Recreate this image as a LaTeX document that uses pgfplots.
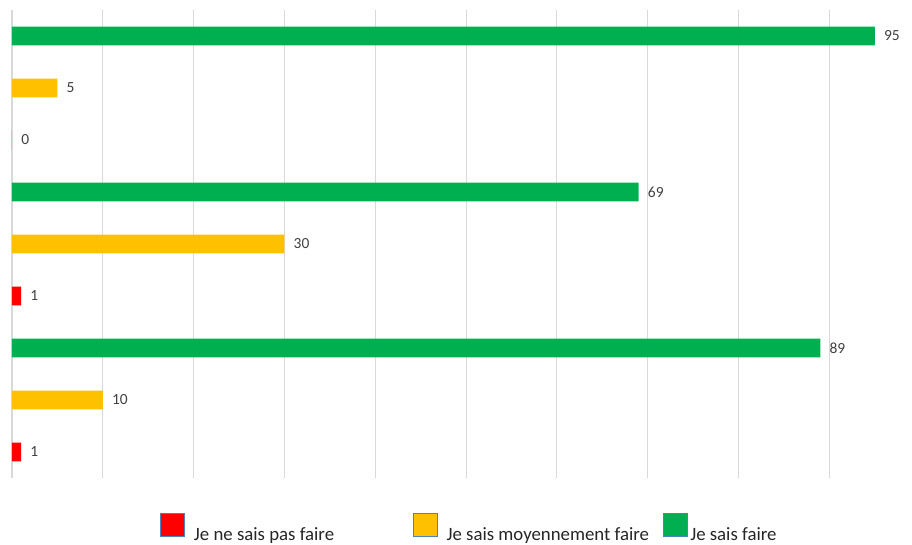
\documentclass[border=0pt]{standalone}
\usepackage{fontspec}
\setmainfont{Carlito}
\usepackage{pgfplots}
\pgfplotsset{compat=1.18}
\definecolor{cRed}{HTML}{FF0000}
\definecolor{cYel}{HTML}{FFC000}
\definecolor{cGrn}{HTML}{00B050}
\definecolor{gridc}{HTML}{D9D9D9}
\definecolor{labc}{HTML}{404040}
\definecolor{legb}{HTML}{4F81BD}
\definecolor{legt}{HTML}{262626}
\pgfplotsset{
  sq legend/.style={legend image code/.code={%
    \path[##1, draw=legb, line width=0.5pt] (0pt,-1pt) rectangle (18pt,16.25pt);}},
}
\begin{document}
\begin{tikzpicture}
\begin{axis}[
  scale only axis,
  width=675pt, height=351pt,
  xmin=0, xmax=99.1,
  ymin=0.5, ymax=9.5,
  y dir=reverse,
  xbar, bar shift=0pt, bar width=0.365,
  clip=false,
  axis line style={draw=none},
  major tick length=0pt,
  xtick={0,10,...,90}, xticklabels=\empty,
  ytick=\empty,
  xmajorgrids,
  grid style={gridc, line width=0.8pt},
  /pgf/number format/assume math mode=true,
  nodes near coords,
  every node near coord/.append style={anchor=west, inner sep=0pt, xshift=6.75pt,
    font=\fontsize{11.6}{13}\selectfont, text=labc},
  legend columns=3,
  legend style={draw=none, fill=none, inner sep=0pt, column sep=0pt,
    at={(axis description cs:0,0)}, anchor=west, xshift=111pt, yshift=-37.4pt,
    font=\fontsize{14.1}{16}\selectfont, text=legt,
    nodes={inner sep=0pt, anchor=west},
    /tikz/every even column/.style={column sep=0pt},
    /tikz/every odd column/.style={column sep=0pt}},
]
\addplot[fill=cRed, draw=none, sq legend] coordinates {(0,3) (1,6) (1,9)};
\addlegendentry{\hspace*{6.75pt}\makebox[164.25pt][l]{Je ne sais pas faire}}
\addplot[fill=cYel, draw=none, sq legend] coordinates {(5,2) (30,5) (10,8)};
\addlegendentry{\hspace*{6.75pt}\makebox[162pt][l]{Je sais moyennement faire}}
\addplot[fill=cGrn, draw=none, sq legend] coordinates {(95,1) (69,4) (89,7)};
\addlegendentry{\hspace*{2.25pt}Je sais faire}
\end{axis}
\path ([shift={(-9pt,-50.25pt)}]current axis.south west);
\path ([shift={(0pt,7.5pt)}]current axis.north east);
\end{tikzpicture}
\end{document}
